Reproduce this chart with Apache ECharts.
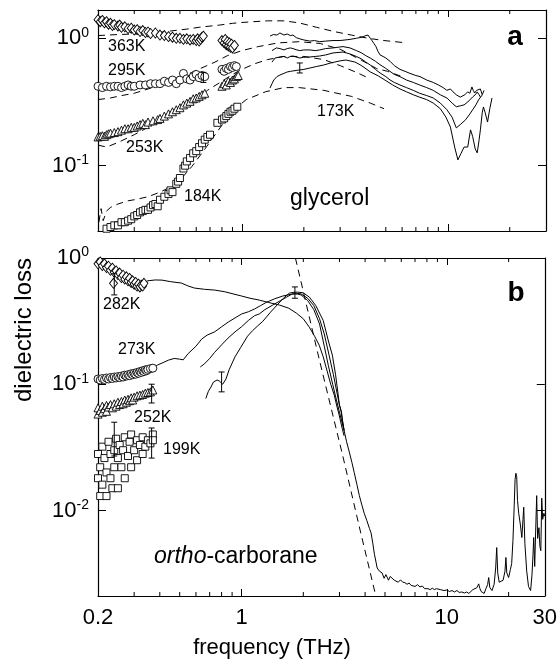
<!DOCTYPE html>
<html><head><meta charset="utf-8">
<script src="https://cdn.jsdelivr.net/npm/echarts@6/dist/echarts.min.js"></script>
<style>html,body{margin:0;padding:0;background:#fff}#c{width:560px;height:661px}</style>
</head><body><div id="c"></div>
<script>
// ---------- axis ticks ----------
const xTickLabels = [0.2, 1, 10, 30];
const xMinorTicks = [0.3,0.4,0.5,0.6,0.7,0.8,0.9,2,3,4,5,6,7,8,9,20];

// ---------- panel a : glycerol ----------
const gly363 = [[0.2,1.40],[0.205,1.35],[0.21,1.38],[0.215,1.32],[0.22,1.35],[0.225,1.29],[0.23,1.31],[0.235,1.26],[0.24,1.28],[0.25,1.25],[0.255,1.27],[0.26,1.22],[0.27,1.23],[0.28,1.19],[0.29,1.2],[0.3,1.16],[0.31,1.17],[0.32,1.13],[0.33,1.15],[0.34,1.11],[0.35,1.12],[0.36,1.09],[0.38,1.1],[0.4,1.06],[0.42,1.05],[0.44,1.03],[0.46,1.02],[0.48,1.0],[0.5,1.0],[0.52,0.98],[0.54,0.99],[0.56,0.97],[0.58,0.98],[0.6,0.96],[0.61,0.99],[0.62,0.95],[0.63,0.98],[0.64,1.02],[0.65,1.04],[0.8,0.96],[0.82,0.92],[0.83,0.98],[0.84,0.89],[0.85,0.94],[0.86,0.87],[0.87,0.92],[0.88,0.85],[0.89,0.9],[0.9,0.84],[0.92,0.88]];
const gly295 = [[0.2,0.42],[0.21,0.41],[0.22,0.42],[0.23,0.415],[0.24,0.42],[0.25,0.42],[0.26,0.41],[0.27,0.42],[0.28,0.43],[0.29,0.42],[0.3,0.42],[0.32,0.43],[0.34,0.43],[0.36,0.44],[0.38,0.44],[0.4,0.44],[0.42,0.46],[0.44,0.45],[0.46,0.47],[0.48,0.44],[0.5,0.47],[0.52,0.53],[0.54,0.48],[0.56,0.47],[0.58,0.5],[0.6,0.52],[0.62,0.49],[0.64,0.51],[0.66,0.5],[0.8,0.57],[0.82,0.55],[0.84,0.58],[0.86,0.57],[0.88,0.6],[0.9,0.59],[0.92,0.61],[0.94,0.6]];
const gly253 = [[0.2,0.168],[0.205,0.17],[0.21,0.172],[0.215,0.17],[0.22,0.175],[0.225,0.178],[0.23,0.18],[0.24,0.182],[0.25,0.185],[0.26,0.19],[0.27,0.195],[0.28,0.195],[0.29,0.2],[0.3,0.2],[0.31,0.205],[0.32,0.21],[0.33,0.215],[0.34,0.21],[0.35,0.22],[0.37,0.225],[0.39,0.23],[0.4,0.235],[0.42,0.245],[0.44,0.255],[0.46,0.265],[0.48,0.275],[0.5,0.285],[0.52,0.3],[0.54,0.31],[0.56,0.32],[0.58,0.335],[0.6,0.34],[0.62,0.35],[0.64,0.36],[0.66,0.37],[0.8,0.42],[0.82,0.44],[0.84,0.43],[0.86,0.46],[0.88,0.45],[0.9,0.47],[0.92,0.48],[0.94,0.5],[0.96,0.51]];
const gly184 = [[0.22,0.032],[0.23,0.033],[0.24,0.034],[0.25,0.034],[0.26,0.036],[0.27,0.036],[0.28,0.037],[0.29,0.038],[0.3,0.04],[0.31,0.041],[0.32,0.043],[0.33,0.044],[0.34,0.045],[0.35,0.045],[0.36,0.047],[0.37,0.049],[0.38,0.05],[0.39,0.048],[0.4,0.054],[0.42,0.057],[0.44,0.06],[0.45,0.064],[0.46,0.062],[0.48,0.072],[0.49,0.075],[0.5,0.08],[0.52,0.095],[0.53,0.1],[0.54,0.108],[0.56,0.115],[0.58,0.125],[0.6,0.13],[0.62,0.14],[0.64,0.15],[0.66,0.16],[0.68,0.168],[0.7,0.175],[0.76,0.217],[0.8,0.23],[0.82,0.235],[0.84,0.245],[0.86,0.255],[0.88,0.265],[0.9,0.27],[0.92,0.28],[0.95,0.29]];
const glyDash1 = [[0.2,1.05],[0.25,1.07],[0.3,1.08],[0.38,1.1],[0.45,1.14],[0.54,1.18],[0.62,1.22],[0.78,1.27],[0.9,1.31],[1.0,1.33],[1.14,1.35],[1.33,1.37],[1.6,1.37],[1.9,1.32],[2.3,1.22],[2.8,1.13],[3.4,1.06],[4.1,1.0],[4.9,0.96],[6.3,0.92]];
const glyDash2 = [[0.2,0.33],[0.23,0.34],[0.26,0.355],[0.3,0.37],[0.35,0.4],[0.4,0.43],[0.5,0.49],[0.6,0.56],[0.74,0.65],[0.85,0.73],[1.0,0.8],[1.2,0.86],[1.5,0.92],[1.9,0.94],[2.4,0.91],[3.0,0.82],[3.76,0.68],[4.5,0.58],[5.1,0.55],[6.0,0.5]];
const glyDash3 = [[0.2,0.145],[0.22,0.14],[0.25,0.152],[0.3,0.175],[0.35,0.2],[0.4,0.22],[0.5,0.27],[0.6,0.33],[0.68,0.39],[0.8,0.46],[0.9,0.52],[1.0,0.57],[1.15,0.63],[1.33,0.68],[1.6,0.72],[2.0,0.72],[2.5,0.68],[3.0,0.61],[3.6,0.54],[4.2,0.48]];
const glyDash4 = [[0.202,0.036],[0.207,0.046],[0.212,0.037],[0.22,0.044],[0.23,0.047],[0.25,0.05],[0.28,0.053],[0.3,0.054],[0.35,0.057],[0.4,0.062],[0.45,0.068],[0.5,0.077],[0.57,0.098],[0.65,0.13],[0.75,0.18],[0.9,0.27],[1.05,0.33],[1.3,0.38],[1.6,0.41],[1.9,0.41],[2.5,0.39],[3.4,0.35],[4.2,0.31],[4.9,0.28]];
const glyThz363 = [[1.37,1.04],[1.42,1.07],[1.48,1.06],[1.53,1.1],[1.6,1.06],[1.66,1.08],[1.72,1.05],[1.77,1.06],[1.84,1.01],[1.91,0.99],[2.0,0.97],[2.14,0.95],[2.25,0.96],[2.39,0.94],[2.55,0.95],[2.77,0.96],[3.0,0.96],[3.35,0.98],[3.6,1.0],[3.83,1.02],[4.0,1.05],[4.1,1.06],[4.2,1.0],[4.28,0.96],[4.38,0.91],[4.48,0.86],[4.58,0.79],[4.69,0.74],[4.85,0.72],[5.0,0.7],[5.24,0.66],[5.5,0.61],[5.86,0.57],[6.2,0.55],[6.55,0.53],[7.0,0.51],[7.33,0.5],[7.9,0.47],[8.5,0.45],[9.0,0.43],[9.5,0.41],[9.9,0.39],[10.3,0.4],[10.6,0.38],[11.0,0.36],[11.5,0.345],[12.1,0.36],[12.5,0.38],[12.8,0.37],[13.1,0.415],[13.3,0.39],[13.5,0.372],[13.8,0.39],[14.1,0.38],[14.4,0.4],[14.7,0.36],[15.0,0.39]];
const glyThz295 = [[1.4,0.8],[1.47,0.84],[1.53,0.83],[1.6,0.81],[1.66,0.83],[1.72,0.84],[1.77,0.83],[1.85,0.81],[1.91,0.8],[2.0,0.81],[2.14,0.81],[2.27,0.8],[2.39,0.81],[2.55,0.83],[2.77,0.84],[3.0,0.855],[3.1,0.86],[3.35,0.84],[3.6,0.8],[3.8,0.77],[4.0,0.73],[4.2,0.7],[4.45,0.66],[4.69,0.62],[5.0,0.58],[5.24,0.55],[5.5,0.52],[5.86,0.5],[6.3,0.47],[6.8,0.45],[7.3,0.43],[7.9,0.41],[8.5,0.39],[9.2,0.36],[9.9,0.34],[10.5,0.31],[11.0,0.29],[11.5,0.295],[12.0,0.3],[12.5,0.316],[13.2,0.346],[13.6,0.36],[13.9,0.379],[14.2,0.36],[14.4,0.346]];
const glyThz253 = [[1.4,0.65],[1.45,0.7],[1.53,0.713],[1.6,0.72],[1.66,0.7],[1.72,0.72],[1.77,0.726],[1.85,0.71],[1.91,0.7],[2.0,0.71],[2.14,0.713],[2.27,0.72],[2.39,0.726],[2.55,0.74],[2.77,0.767],[3.1,0.78],[3.35,0.753],[3.6,0.72],[3.8,0.69],[4.0,0.65],[4.2,0.617],[4.45,0.57],[4.69,0.534],[5.0,0.5],[5.24,0.471],[5.5,0.45],[5.86,0.43],[6.3,0.41],[6.8,0.39],[7.3,0.37],[7.9,0.355],[8.5,0.34],[9.2,0.31],[9.9,0.275],[10.5,0.24],[11.0,0.198],[11.5,0.21],[12.2,0.229],[12.7,0.25],[13.2,0.274],[13.7,0.3],[14.1,0.328],[14.7,0.359]];
const glyThz184 = [[1.37,0.407],[1.4,0.44],[1.43,0.471],[1.48,0.5],[1.53,0.515],[1.6,0.53],[1.66,0.544],[1.72,0.55],[1.77,0.554],[1.85,0.56],[1.91,0.564],[2.0,0.57],[2.14,0.584],[2.3,0.6],[2.5,0.617],[2.7,0.64],[2.83,0.651],[3.0,0.665],[3.2,0.675],[3.54,0.651],[3.75,0.62],[3.96,0.584],[4.2,0.545],[4.6,0.506],[4.95,0.47],[5.4,0.43],[5.86,0.4],[6.3,0.38],[6.8,0.36],[7.3,0.345],[7.9,0.33],[8.5,0.31],[9.2,0.28],[9.8,0.24],[10.3,0.201],[10.8,0.14],[11.2,0.111],[11.6,0.125],[12.0,0.14],[12.5,0.14],[12.9,0.191],[13.2,0.17],[13.6,0.135],[13.9,0.126],[14.2,0.16],[14.4,0.191],[14.7,0.26],[14.9,0.289],[15.2,0.26],[15.6,0.22],[16.0,0.28],[16.4,0.34]];
const glyErr = [[0.65,0.45,0.54],[1.91,0.534,0.64]];

// ---------- panel b : ortho-carborane ----------
const oc282 = [[0.2,0.9],[0.205,0.93],[0.21,0.87],[0.215,0.9],[0.22,0.84],[0.225,0.86],[0.23,0.8],[0.235,0.83],[0.238,0.63],[0.24,0.77],[0.245,0.79],[0.25,0.74],[0.255,0.76],[0.26,0.7],[0.265,0.73],[0.27,0.68],[0.275,0.71],[0.28,0.66],[0.285,0.69],[0.29,0.64],[0.295,0.66],[0.3,0.62],[0.305,0.64],[0.31,0.6],[0.315,0.62],[0.32,0.59],[0.325,0.61],[0.33,0.6],[0.335,0.63]];
const oc273 = [[0.2,0.11],[0.205,0.108],[0.21,0.111],[0.215,0.109],[0.22,0.112],[0.225,0.11],[0.23,0.113],[0.235,0.111],[0.24,0.114],[0.245,0.112],[0.25,0.115],[0.255,0.113],[0.26,0.116],[0.265,0.114],[0.27,0.118],[0.275,0.116],[0.28,0.119],[0.285,0.117],[0.29,0.121],[0.295,0.119],[0.3,0.122],[0.305,0.12],[0.31,0.124],[0.315,0.122],[0.32,0.126],[0.325,0.124],[0.33,0.128],[0.335,0.126],[0.34,0.13],[0.345,0.128],[0.35,0.131],[0.36,0.133],[0.37,0.134]];
const oc252 = [[0.2,0.058],[0.2,0.065],[0.205,0.062],[0.21,0.067],[0.21,0.06],[0.215,0.064],[0.22,0.068],[0.22,0.061],[0.225,0.066],[0.23,0.069],[0.235,0.065],[0.24,0.07],[0.245,0.067],[0.25,0.072],[0.255,0.069],[0.26,0.073],[0.265,0.07],[0.27,0.075],[0.275,0.072],[0.28,0.076],[0.285,0.074],[0.29,0.078],[0.295,0.075],[0.3,0.079],[0.31,0.081],[0.32,0.082],[0.33,0.083],[0.34,0.085],[0.35,0.086],[0.36,0.087],[0.37,0.09]];
const oc199 = [[0.2,0.028],[0.2,0.018],[0.205,0.013],[0.205,0.022],[0.21,0.032],[0.21,0.016],[0.215,0.026],[0.22,0.02],[0.22,0.013],[0.225,0.035],[0.23,0.018],[0.23,0.028],[0.235,0.015],[0.24,0.03],[0.24,0.022],[0.245,0.037],[0.25,0.026],[0.25,0.015],[0.255,0.033],[0.26,0.022],[0.265,0.03],[0.27,0.038],[0.27,0.018],[0.28,0.027],[0.285,0.035],[0.29,0.022],[0.29,0.04],[0.3,0.03],[0.31,0.036],[0.31,0.025],[0.32,0.033],[0.33,0.028],[0.33,0.038],[0.34,0.032],[0.35,0.036],[0.36,0.034],[0.37,0.04],[0.37,0.036]];
const ocThz282 = [[0.33,0.63],[0.35,0.66],[0.38,0.67],[0.41,0.668],[0.45,0.65],[0.51,0.633],[0.55,0.6],[0.59,0.578],[0.66,0.565],[0.74,0.557],[0.83,0.54],[0.93,0.515],[1.0,0.5],[1.1,0.48],[1.22,0.464],[1.35,0.445],[1.53,0.424],[1.7,0.4],[1.85,0.366],[2.0,0.33],[2.14,0.283],[2.27,0.24],[2.39,0.204],[2.5,0.165],[2.62,0.125],[2.72,0.1],[2.83,0.082],[2.92,0.066],[2.99,0.057],[3.1,0.044],[3.16,0.039]];
const ocThz273 = [[0.37,0.135],[0.39,0.142],[0.41,0.147],[0.44,0.155],[0.47,0.16],[0.5,0.158],[0.52,0.156],[0.55,0.175],[0.6,0.2],[0.64,0.228],[0.68,0.245],[0.74,0.26],[0.8,0.285],[0.86,0.31],[0.93,0.335],[1.0,0.36],[1.08,0.375],[1.16,0.395],[1.24,0.42],[1.32,0.445],[1.45,0.475],[1.59,0.5],[1.7,0.512],[1.78,0.518],[1.87,0.518],[1.95,0.51],[2.1,0.46],[2.25,0.39],[2.4,0.3],[2.53,0.2],[2.65,0.14],[2.78,0.1],[2.9,0.075],[3.0,0.06],[3.16,0.043]];
const ocThz252 = [[0.63,0.137],[0.66,0.145],[0.7,0.16],[0.74,0.179],[0.8,0.205],[0.86,0.232],[0.93,0.26],[1.0,0.285],[1.08,0.32],[1.16,0.35],[1.22,0.36],[1.3,0.39],[1.42,0.424],[1.55,0.46],[1.66,0.49],[1.75,0.515],[1.82,0.527],[1.95,0.52],[2.1,0.48],[2.25,0.42],[2.4,0.33],[2.53,0.25],[2.67,0.17],[2.8,0.12],[2.9,0.09],[2.99,0.07],[3.05,0.062],[3.1,0.052],[3.16,0.043]];
const ocThz199 = [[0.67,0.077],[0.69,0.088],[0.71,0.095],[0.73,0.104],[0.76,0.108],[0.78,0.106],[0.81,0.1],[0.84,0.11],[0.87,0.13],[0.93,0.165],[0.99,0.195],[1.07,0.24],[1.13,0.265],[1.2,0.29],[1.27,0.315],[1.38,0.37],[1.49,0.424],[1.6,0.48],[1.71,0.527],[1.8,0.535],[1.87,0.537],[2.0,0.53],[2.14,0.49],[2.3,0.42],[2.5,0.32],[2.65,0.22],[2.77,0.17],[2.87,0.12],[2.95,0.085],[3.0,0.068],[3.07,0.06],[3.1,0.052],[3.16,0.043]];
const ocThzTail = [[3.16,0.043],[3.25,0.035],[3.35,0.029],[3.45,0.024],[3.54,0.02],[3.65,0.016],[3.75,0.0131],[3.86,0.011],[3.96,0.0095],[4.08,0.0083],[4.2,0.0072],[4.28,0.0066],[4.36,0.0055],[4.44,0.0045],[4.52,0.0039],[4.58,0.0035],[4.7,0.0033],[4.84,0.0032],[4.95,0.0029],[5.05,0.0031],[5.2,0.0028],[5.3,0.003],[5.42,0.0029],[5.55,0.0028],[5.65,0.00285],[5.8,0.0027],[5.95,0.00282],[6.1,0.0027],[6.25,0.00268],[6.4,0.0026],[6.55,0.00266],[6.7,0.00255],[6.85,0.0026],[7.0,0.0025],[7.2,0.00258],[7.4,0.00248],[7.6,0.00252],[7.8,0.0024],[7.93,0.00246],[8.1,0.0024],[8.3,0.00236],[8.5,0.00242],[8.7,0.00236],[8.9,0.0024],[9.1,0.00248],[9.3,0.00236],[9.48,0.0024],[9.7,0.00232],[10.0,0.00234],[10.3,0.00228],[10.6,0.00232],[10.9,0.00226],[11.2,0.00232],[11.5,0.00224],[11.8,0.00226],[12.2,0.00222],[12.5,0.00226],[12.8,0.0022],[13.1,0.00228],[13.4,0.00236],[13.7,0.00232],[14.0,0.00244],[14.3,0.00262],[14.5,0.0024],[14.7,0.00228],[15.0,0.00222],[15.2,0.0022],[15.5,0.0024],[15.8,0.00258],[16.0,0.00294],[16.2,0.00245],[16.6,0.00232],[17.0,0.0026],[17.3,0.0035],[17.5,0.00508],[17.7,0.0032],[18.0,0.0027],[18.3,0.00264],[18.8,0.0028],[19.2,0.0033],[19.4,0.00424],[19.6,0.0032],[20.0,0.00294],[20.4,0.0034],[20.7,0.0038],[21.0,0.0058],[21.3,0.011],[21.5,0.0175],[21.7,0.0197],[21.9,0.0185],[22.1,0.012],[22.4,0.0095],[22.8,0.0078],[23.2,0.0061],[23.5,0.0085],[23.7,0.0106],[24.0,0.0055],[24.5,0.0033],[25.0,0.0025],[25.6,0.00232],[26.0,0.0031],[26.3,0.0045],[26.5,0.0061],[26.8,0.0036],[27.1,0.007],[27.4,0.0131],[27.7,0.006],[28.1,0.0073],[28.4,0.0052],[28.7,0.0048],[29.0,0.0125],[29.3,0.0085],[29.7,0.0095],[30,0.009]];
const ocDash = [[1.83,1.0],[1.85,0.93],[2.39,0.158],[3.11,0.0273],[3.75,0.0074],[4.48,0.0022],[4.52,0.0021]];
const ocErr = [[0.24,0.51,0.75],[0.365,0.071,0.1],[0.24,0.027,0.05],[0.365,0.026,0.045],[0.8,0.087,0.125],[1.82,0.48,0.59]];

// ---------- rendering ----------
const FONT = '"Liberation Sans", Arial, Helvetica, sans-serif';
const BLACK = '#000';
const chart = echarts.init(document.getElementById('c'), null, {renderer: 'canvas'});

function sameVal(a, b) { return Math.abs(Math.log10(a) - Math.log10(b)) < 1e-6; }
function fmtX(v) { for (const t of xTickLabels) if (sameVal(v, t)) return String(t); return ''; }
function fmtY(v) {
  const e = Math.round(Math.log10(v));
  if (Math.abs(Math.log10(v) - e) > 1e-6) return '';
  return '{b|10}{s|' + e + '}';
}
const yRich = {
  b: {fontSize: 22, fontFamily: FONT, color: BLACK, lineHeight: 25},
  s: {fontSize: 14, fontFamily: FONT, color: BLACK, verticalAlign: 'top', lineHeight: 15}
};

function xAx(grid, pos, labels) {
  return {type: 'log', logBase: 10, gridIndex: grid, position: pos, min: 0.2, max: 30,
    axisLine: {show: true, onZero: false, lineStyle: {color: BLACK, width: 1.2}},
    axisTick: {show: true, inside: true, length: 7, lineStyle: {color: BLACK, width: 1}},
    axisLabel: {show: labels, formatter: fmtX, fontSize: 22, fontFamily: FONT, color: BLACK, margin: 11, showMinLabel: true, showMaxLabel: true},
    splitLine: {show: false}, minorTick: {show: false}};
}
function yAx(grid, pos, min, max, labels) {
  return {type: 'log', logBase: 10, gridIndex: grid, position: pos, min: min, max: max,
    axisLine: {show: true, onZero: false, lineStyle: {color: BLACK, width: 1.2}},
    axisTick: {show: true, inside: true, length: 8, lineStyle: {color: BLACK, width: 1}},
    axisLabel: {show: labels, formatter: fmtY, rich: yRich, margin: 9, showMinLabel: true, showMaxLabel: true},
    splitLine: {show: false}};
}

function sym(name, data, shape, size, xi, yi) {
  return {name: name, type: 'scatter', xAxisIndex: xi, yAxisIndex: yi, data: data, symbol: shape, symbolSize: size,
    itemStyle: {color: '#fff', borderColor: BLACK, borderWidth: 0.9, opacity: 1}, z: 4, silent: true};
}
function line(name, data, dashed, xi, yi) {
  return {name: name, type: 'line', xAxisIndex: xi, yAxisIndex: yi, data: data, showSymbol: false, symbol: 'none',
    lineStyle: {color: BLACK, width: 1, type: dashed ? [7, 5] : 'solid'}, z: 3, silent: true, clip: true, animation: false};
}
function errBars(data, xi, yi) {
  return {type: 'custom', xAxisIndex: xi, yAxisIndex: yi, data: data, encode: {x: 0, y: [1, 2]}, z: 5, silent: true,
    renderItem: function (params, api) {
      const x = api.value(0);
      const a = api.coord([x, api.value(1)]);
      const b = api.coord([x, api.value(2)]);
      const w = 3, st = {stroke: BLACK, lineWidth: 1};
      return {type: 'group', children: [
        {type: 'line', shape: {x1: a[0], y1: a[1], x2: b[0], y2: b[1]}, style: st},
        {type: 'line', shape: {x1: a[0] - w, y1: a[1], x2: a[0] + w, y2: a[1]}, style: st},
        {type: 'line', shape: {x1: b[0] - w, y1: b[1], x2: b[0] + w, y2: b[1]}, style: st}
      ]};
    }};
}
function minorTicks(xi, yi, yRef) {
  return {type: 'custom', xAxisIndex: xi, yAxisIndex: yi, data: xMinorTicks.map(v => [v]), encode: {x: 0}, clip: false, z: 6, silent: true,
    renderItem: function (params, api) {
      const x = api.coord([api.value(0), yRef])[0];
      const cs = params.coordSys, st = {stroke: BLACK, lineWidth: 1}, L = 4;
      return {type: 'group', children: [
        {type: 'line', shape: {x1: x, y1: cs.y + cs.height, x2: x, y2: cs.y + cs.height - L}, style: st},
        {type: 'line', shape: {x1: x, y1: cs.y, x2: x, y2: cs.y + L}, style: st}
      ]};
    }};
}
function txt(t, x, y, size, extra) {
  return {type: 'text', x: x, y: y, z: 100, style: Object.assign({text: t, fontSize: size, fontFamily: FONT, fill: BLACK, align: 'left', verticalAlign: 'middle'}, extra || {})};
}

const option = {
  animation: false,
  backgroundColor: '#fff',
  grid: [
    {left: 98, right: 14, top: 10, height: 221, containLabel: false},
    {left: 98, right: 14, top: 258, height: 338, containLabel: false}
  ],
  xAxis: [xAx(0, 'bottom', false), xAx(0, 'top', false), xAx(1, 'bottom', true), xAx(1, 'top', false)],
  yAxis: [yAx(0, 'left', 0.0307, 1.667, true), yAx(0, 'right', 0.0307, 1.667, false), yAx(1, 'left', 0.0021, 1, true), yAx(1, 'right', 0.0021, 1, false)],
  series: [
    line('d1', glyDash1, true, 0, 0), line('d2', glyDash2, true, 0, 0), line('d3', glyDash3, true, 0, 0), line('d4', glyDash4, true, 0, 0),
    line('s363', glyThz363, false, 0, 0), line('s295', glyThz295, false, 0, 0), line('s253', glyThz253, false, 0, 0), line('s184', glyThz184, false, 0, 0),
    sym('363K', gly363, 'diamond', [8, 10], 0, 0), sym('295K', gly295, 'circle', 8, 0, 0),
    sym('253K', gly253, 'triangle', 8, 0, 0), sym('184K', gly184, 'rect', 7, 0, 0),
    errBars(glyErr, 0, 0), minorTicks(0, 0, 0.1),

    line('od', ocDash, true, 2, 2),
    line('t282', ocThz282, false, 2, 2), line('t273', ocThz273, false, 2, 2), line('t252', ocThz252, false, 2, 2), line('t199', ocThz199, false, 2, 2),
    line('tail', ocThzTail, false, 2, 2),
    sym('282K', oc282, 'diamond', [8, 10], 2, 2), sym('273K', oc273, 'circle', 8, 2, 2),
    sym('252K', oc252, 'triangle', 8, 2, 2), sym('199K', oc199, 'rect', 7, 2, 2),
    errBars(ocErr, 2, 2), minorTicks(2, 2, 0.1)
  ],
  graphic: [
    txt('363K', 108, 47, 16), txt('295K', 108, 71, 16), txt('253K', 126, 148, 16), txt('184K', 184, 197, 16), txt('173K', 317, 112, 16),
    txt('glycerol', 290, 199, 23),
    txt('a', 515, 37, 28, {fontWeight: 'bold', align: 'center'}),
    txt('282K', 103, 305, 16), txt('273K', 118, 350, 16), txt('252K', 134, 418, 16), txt('199K', 163, 450, 16),
    txt('{i|ortho}-carborane', 154, 557, 23, {rich: {i: {fontStyle: 'italic', fontSize: 23, fontFamily: FONT, fill: BLACK}}}),
    txt('b', 516, 293, 28, {fontWeight: 'bold', align: 'center'}),
    {type: 'text', x: 24, y: 330, rotation: Math.PI / 2, z: 100, style: {text: 'dielectric loss', fontSize: 24, fontFamily: FONT, fill: BLACK, align: 'center', verticalAlign: 'middle'}},
    txt('frequency (THz)', 272, 648, 22, {align: 'center'})
  ]
};
chart.setOption(option);
</script></body></html>
